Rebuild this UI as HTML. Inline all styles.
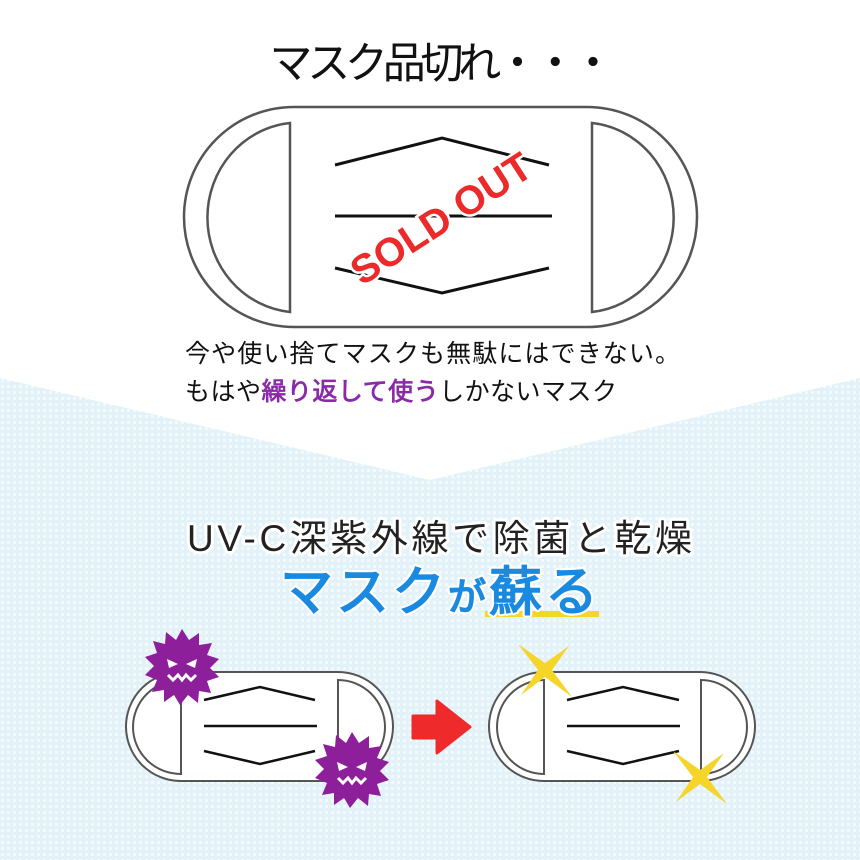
<!DOCTYPE html>
<html><head><meta charset="utf-8"><style>
html,body{margin:0;padding:0;width:860px;height:860px;overflow:hidden;background:#fff}
svg{display:block}
text{font-family:"Liberation Sans","Noto Sans CJK JP",sans-serif}
</style></head><body>
<svg width="860" height="860" viewBox="0 0 860 860" xmlns="http://www.w3.org/2000/svg">
<defs>
<pattern id="dots" width="6" height="6" patternUnits="userSpaceOnUse">
<rect width="6" height="6" fill="#e3f2f9"/>
<rect x="1" y="1" width="3" height="3" fill="#f3fafd"/>
</pattern>
<g id="virus">
<polygon fill="#8e1f9a" points="0,-38 7,-27 17,-34 17,-22 30,-24 25,-12 37,-8 28,1 37,10 25,14 29,26 17,24 16,36 6,28 -2,38 -8,28 -18,35 -18,23 -30,25 -25,13 -37,8 -28,-1 -37,-10 -25,-14 -29,-26 -17,-23 -16,-35 -6,-27"/>
<polygon fill="#fff" points="-15,-8 -4,-3 -13,1"/>
<polygon fill="#fff" points="15,-8 4,-3 13,1"/>
<polyline fill="none" stroke="#fff" stroke-width="3" points="-14,8 -9,13 -4,8 0,13 4,8 9,13 14,8"/>
</g>
<g id="star">
<path fill="#f5d52a" d="M-27,-26 L0,-7 L24,-24 L7,0 L27,27 L0,7 L-24,25 L-7,0Z"/>
</g>
</defs>
<rect width="860" height="860" fill="url(#dots)"/>
<polygon points="0,0 860,0 860,378 430,480 0,378" fill="#fff"/>

<g fill="none" stroke="#555" stroke-width="2.5">
<rect x="184" y="107" width="513" height="220" rx="110" fill="#fff"/>
<path d="M290,123 L290,312 A92,95 0 0 1 290,123Z"/>
<path d="M592,123 L592,312 A91,95 0 0 0 592,123Z"/>
</g>
<g fill="none" stroke="#111" stroke-width="3">
<polyline points="335,165 442,138 549,165"/>
<line x1="335" y1="216" x2="552" y2="216"/>
<polyline points="335,268 442,293 549,268"/>
</g>
<text x="442" y="232" text-anchor="middle" font-size="40" font-weight="bold" fill="#ec2a2a" stroke="#fff" stroke-width="5" paint-order="stroke" transform="rotate(-33 442 220)">SOLD OUT</text>

<text x="442" y="78" text-anchor="middle" font-size="43" fill="#111" textLength="345">マスク品切れ・・・</text>
<text x="185" y="362" font-size="25" fill="#111" textLength="495">今や使い捨てマスクも無駄にはできない。</text>
<text x="185" y="400" font-size="25" fill="#111" textLength="432">もはや<tspan fill="#8a2aa8" stroke="#8a2aa8" stroke-width="0.8">繰り返して使う</tspan>しかないマスク</text>

<g stroke="#fff" stroke-width="6" paint-order="stroke" stroke-linejoin="round">
<text x="187" y="551" font-size="37" fill="#222" textLength="505">UV-C深紫外線で除菌と乾燥</text>
<rect x="485" y="611" width="114" height="6" fill="#f5d52a" stroke="none"/>
<text x="280" y="610" font-size="53" fill="#1a8ae0" textLength="318">マスク<tspan font-size="38">が</tspan>蘇る</text>
</g>
<text x="280" y="610" font-size="53" fill="#1a8ae0" stroke="#1a8ae0" stroke-width="1.6" textLength="318">マスク<tspan font-size="38">が</tspan>蘇る</text>

<g fill="none" stroke="#555" stroke-width="2">
<rect x="126" y="672" width="267" height="109" rx="55" fill="#fff"/>
<path d="M181,680 L181,774 A48,47 0 0 1 181,680Z"/>
<path d="M338,680 L338,774 A47,47 0 0 0 338,680Z"/>
<rect x="489" y="672" width="266" height="109" rx="55" fill="#fff"/>
<path d="M544,680 L544,774 A47,47 0 0 1 544,680Z"/>
<path d="M701,680 L701,774 A46,47 0 0 0 701,680Z"/>
</g>
<g fill="none" stroke="#111" stroke-width="2.5">
<polyline points="204,700 260,687 315,700"/>
<line x1="204" y1="726" x2="317" y2="726"/>
<polyline points="204,751 260,764 315,751"/>
<polyline points="567,700 623,687 679,700"/>
<line x1="567" y1="726" x2="680" y2="726"/>
<polyline points="567,751 623,764 679,751"/>
</g>
<use href="#virus" x="182" y="667"/>
<use href="#virus" x="352" y="770"/>
<use href="#star" x="545" y="670"/>
<use href="#star" x="700" y="777"/>
<path d="M413,716 L437,716 L437,701 L470,727 L437,753 L437,738 L413,738Z" fill="#ee2a2a" stroke="#ee2a2a" stroke-width="3" stroke-linejoin="round"/>
</svg>
</body></html>
